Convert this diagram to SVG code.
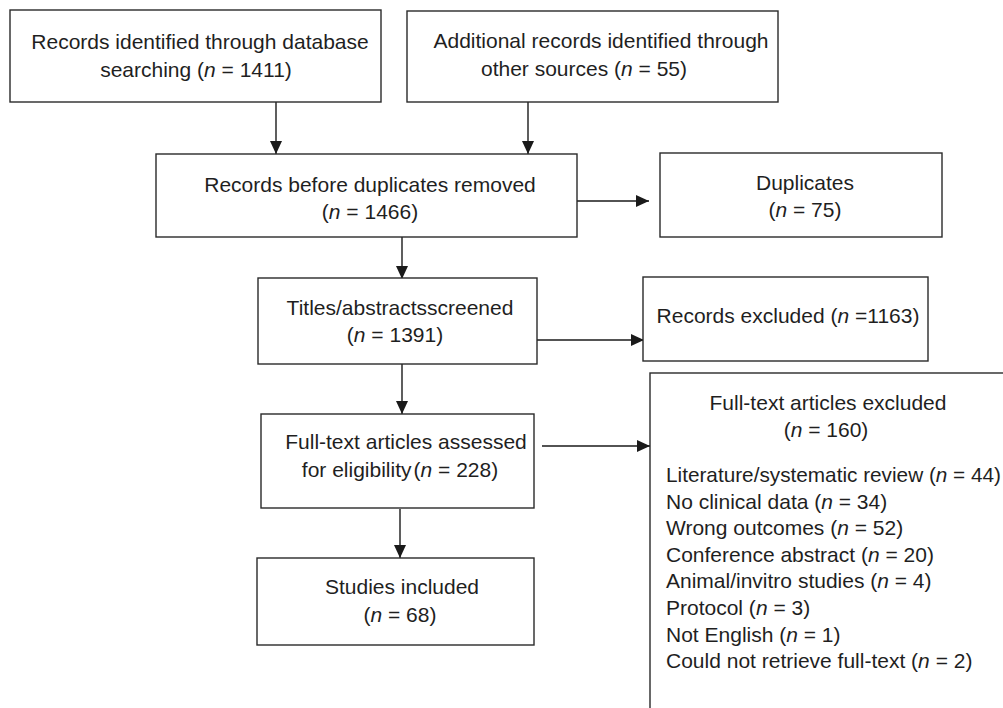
<svg xmlns="http://www.w3.org/2000/svg" width="1003" height="708" viewBox="0 0 1003 708">
<defs>
<marker id="ah" markerUnits="userSpaceOnUse" markerWidth="13" markerHeight="13" viewBox="0 0 13 13" refX="13" refY="6.5" orient="auto">
<path d="M0,0.5 L13,6.5 L0,12.5 Z" fill="#1a1a1a"/>
</marker>
<style>
rect{fill:#fff;stroke:#2a2a2a;stroke-width:1.4}
text{font-family:"Liberation Sans",Arial,sans-serif;font-size:21px;fill:#1f1f1f}
.c{text-anchor:middle}
.i{font-style:italic}
#connectors line{stroke:#1a1a1a;stroke-width:1.4}
#connectors .a{marker-end:url(#ah)}
</style>
</defs>
<rect x="0" y="0" width="1003" height="708" style="fill:#fff;stroke:none"/>
<g id="connectors">
<line class="a" x1="276" y1="102" x2="276" y2="154"/>
<line class="a" x1="528" y1="102" x2="528" y2="154"/>
<line class="a" x1="571" y1="201" x2="649" y2="201"/>
<line class="a" x1="402" y1="237" x2="402" y2="279"/>
<line class="a" x1="537" y1="340" x2="644" y2="340"/>
<line class="a" x1="402" y1="364" x2="402" y2="414"/>
<line class="a" x1="542" y1="446" x2="650" y2="446"/>
<line class="a" x1="400" y1="509" x2="400" y2="558"/>
</g>
<g id="n1">
<rect x="10" y="10" width="371" height="92"/>
<text class="c" x="200" y="49">Records identified through database</text>
<text class="c" x="196" y="77">searching (<tspan class="i">n</tspan> = 1411)</text>
</g>
<g id="n2">
<rect x="407" y="11" width="371" height="91"/>
<text class="c" x="601" y="48">Additional records identified through</text>
<text class="c" x="584" y="76">other sources (<tspan class="i">n</tspan> = 55)</text>
</g>
<g id="n3">
<rect x="156" y="154" width="421" height="83"/>
<text class="c" x="370" y="192">Records before duplicates removed</text>
<text class="c" x="370" y="219">(<tspan class="i">n</tspan> = 1466)</text>
</g>
<g id="n4">
<rect x="660" y="153" width="282" height="84"/>
<text class="c" x="805" y="190">Duplicates</text>
<text class="c" x="805" y="217">(<tspan class="i">n</tspan> = 75)</text>
</g>
<g id="n5">
<rect x="258" y="278" width="279" height="86"/>
<text class="c" x="400" y="315">Titles/abstractsscreened</text>
<text class="c" x="395" y="342">(<tspan class="i">n</tspan> = 1391)</text>
</g>
<g id="n6">
<rect x="643" y="277" width="285" height="84"/>
<text class="c" x="788" y="323">Records excluded (<tspan class="i">n</tspan> =1163)</text>
</g>
<g id="n7">
<rect x="261" y="414" width="273" height="94"/>
<text class="c" x="406" y="449">Full-text articles assessed</text>
<text class="c" x="400" y="477">for eligibility<tspan dx="2">(</tspan><tspan class="i">n</tspan> = 228)</text>
</g>
<g id="n8">
<rect x="257" y="558" width="277" height="87"/>
<text class="c" x="402" y="594">Studies included</text>
<text class="c" x="400" y="622">(<tspan class="i">n</tspan> = 68)</text>
</g>
<g id="n9">
<rect x="650" y="373" width="370" height="350"/>
<text class="c" x="828" y="410">Full-text articles excluded</text>
<text class="c" x="826" y="437">(<tspan class="i">n</tspan> = 160)</text>
<text x="666" y="482" textLength="335" lengthAdjust="spacingAndGlyphs">Literature/systematic review (<tspan class="i">n</tspan> = 44)</text>
<text x="666" y="508.6">No clinical data (<tspan class="i">n</tspan> = 34)</text>
<text x="666" y="535.2">Wrong outcomes (<tspan class="i">n</tspan> = 52)</text>
<text x="666" y="561.8">Conference abstract (<tspan class="i">n</tspan> = 20)</text>
<text x="666" y="588.4">Animal/invitro studies (<tspan class="i">n</tspan> = 4)</text>
<text x="666" y="615">Protocol (<tspan class="i">n</tspan> = 3)</text>
<text x="666" y="641.6">Not English (<tspan class="i">n</tspan> = 1)</text>
<text x="666" y="668.2">Could not retrieve full-text (<tspan class="i">n</tspan> = 2)</text>
</g>
</svg>
